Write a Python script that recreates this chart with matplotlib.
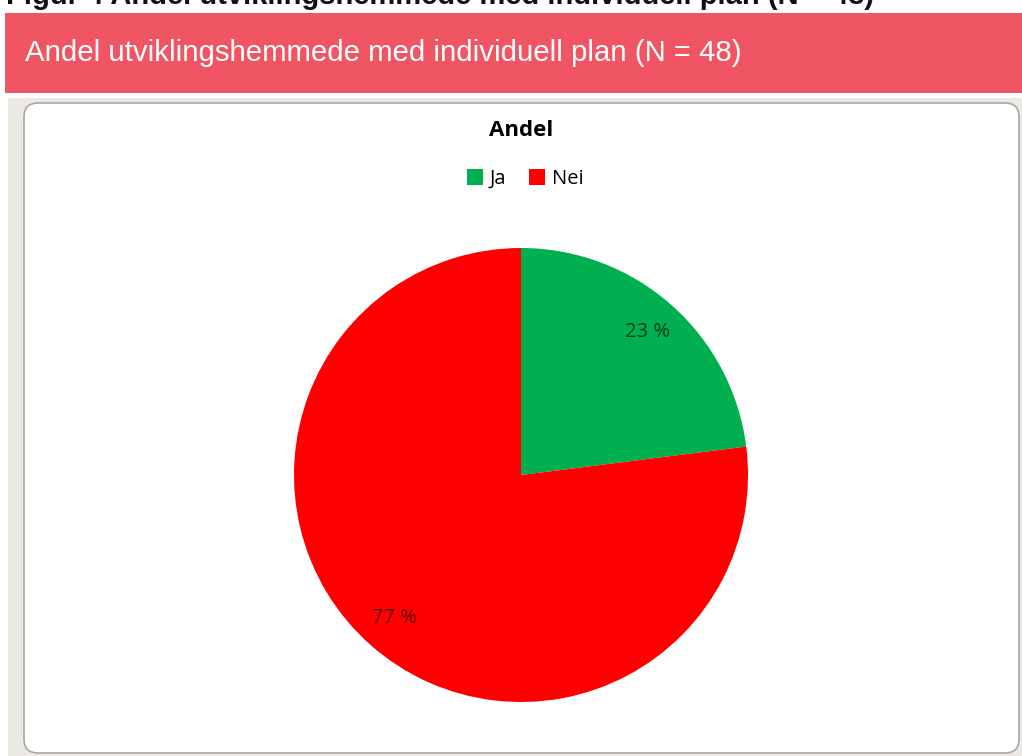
import matplotlib
matplotlib.use('Agg')
import matplotlib.pyplot as plt
from matplotlib.patches import Rectangle, FancyBboxPatch

# pie data
labels = ['Ja', 'Nei']
shares = [23, 77]
colors = ['#00b050', '#ff0000']

heading = 'Figur 4 Andel utviklingshemmede med individuell plan (N = 48)'
banner_text = 'Andel utviklingshemmede med individuell plan (N = 48)'
chart_title = 'Andel'

W, H = 1022, 756
fig = plt.figure(figsize=(W / 100, H / 100), dpi=100)
fig.patch.set_facecolor('white')

def px(x, y):
    # pixel coords measured from the top-left corner -> figure fraction
    return x / W, 1 - y / H

# heading, mostly scrolled out above the top edge
fig.text(*px(6, 4), heading, fontsize=21, fontweight='bold', color='#111111',
         family='Liberation Sans', va='baseline', ha='left')

# red banner
fig.patches.append(Rectangle(px(5, 93), (W - 5) / W, 80 / H, transform=fig.transFigure,
                             facecolor='#f05563', edgecolor='none', zorder=0))
fig.text(*px(25, 61), banner_text, fontsize=21.2, color='white',
         family='Liberation Sans', va='baseline', ha='left')

# grey panel and white rounded chart area
fig.patches.append(Rectangle(px(8, H), (W - 8) / W, (H - 98) / H, transform=fig.transFigure,
                             facecolor='#ece9e4', edgecolor='none', zorder=0))
box = FancyBboxPatch((24, 3), 995, 650, boxstyle='round,pad=0,rounding_size=14',
                     transform=None, facecolor='white', edgecolor='#a8a8a8',
                     linewidth=1.2, zorder=1)
fig.patches.append(box)

# chart title
fig.text(*px(521, 130), chart_title, fontsize=16, fontweight='bold', color='black',
         family='Open Sans', ha='center', va='center', zorder=3)

cx, cy, r = 521, 475, 227
ax = fig.add_axes([(cx - r) / W, (H - cy - r) / H, 2 * r / W, 2 * r / H])
ax.set_zorder(2)
wedges, _, autotexts = ax.pie(shares, colors=colors, startangle=90, counterclock=False,
                              autopct=lambda p: f'{p:.0f} %', pctdistance=0.84,
                              wedgeprops=dict(linewidth=0),
                              textprops=dict(fontsize=14.5, color='black', alpha=0.65,
                                             family='Open Sans'))
ax.set_xlim(-1, 1)
ax.set_ylim(-1, 1)
ax.set_aspect('equal')
ax.axis('off')

fig.legend(wedges, labels, loc='center', bbox_to_anchor=px(525, 179), ncol=2,
           frameon=False, handlelength=0.8, handleheight=0.8, handletextpad=0.35,
           columnspacing=1.1, prop=dict(family='Open Sans', size=14.5))

fig.savefig('out.png', dpi=100)
